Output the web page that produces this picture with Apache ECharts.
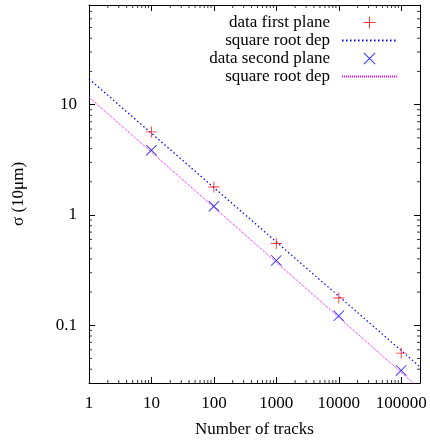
<!DOCTYPE html>
<html>
<head>
<meta charset="utf-8">
<script src="https://cdn.jsdelivr.net/npm/echarts@6/dist/echarts.min.js"></script>
<style>html,body{margin:0;padding:0;background:#fff}#c{width:430px;height:441px}</style>
</head>
<body>
<div id="c"></div>
<script>
// ---- data ----
var tracks = [10, 100, 1000, 10000, 100000];
var sigmaFirst = [5.66, 1.79, 0.552, 0.177, 0.056];
var sigmaSecond = [3.86, 1.20, 0.387, 0.122, 0.039];
var fitX = [1, 200000];
var fitFirst = [17.1, 0.042];
var fitSecond = [11.7, 0.0265];
var xMin = 1, xMax = 200000, yMin = 0.03, yMax = 80;
var xMinorTicks = [2,3,4,5,6,7,8,9,20,30,40,50,60,70,80,90,200,300,400,500,600,700,800,900,
  2000,3000,4000,5000,6000,7000,8000,9000,20000,30000,40000,50000,60000,70000,80000,90000];
var yMinorTicks = [0.04,0.05,0.06,0.07,0.08,0.09,0.2,0.3,0.4,0.5,0.6,0.7,0.8,0.9,2,3,4,5,6,7,8,9,20,30,40,50,60,70];

var FONT = 'Liberation Serif';
var PLUS = 'path://M0,5.5H12V6.5H0Z M5.5,0H6.5V12H5.5Z';
var CROSS = 'path://M0,0.7L0.7,0L12,11.3L11.3,12Z M11.3,0L12,0.7L0.7,12L0,11.3Z';

function zip(a, b) { return a.map(function (v, i) { return [v, b[i]]; }); }
function isPow10(v) { var l = Math.log10(v); return Math.abs(l - Math.round(l)) < 1e-6; }

function minorSeries(data, size, offset) {
  return {
    type: 'scatter', data: data, symbol: 'rect', symbolSize: size, symbolOffset: offset,
    itemStyle: { color: '#000' }, silent: true, clip: false, animation: false,
    emphasis: { disabled: true }, tooltip: { show: false }, z: 5
  };
}

var axisCommon = {
  type: 'log', logBase: 10, splitLine: { show: false },
  axisLine: { show: true, lineStyle: { color: '#000', width: 1 } },
  axisTick: { show: true, inside: true, length: 6, lineStyle: { color: '#000' } }
};

var option = {
  animation: false,
  grid: { left: 89, top: 5, right: 10, bottom: 58, containLabel: false, outerBoundsMode: 'none' },
  legend: {
    orient: 'vertical', align: 'right', right: 27, top: 9,
    itemWidth: 55, itemHeight: 12, itemGap: 1,
    data: [
      { name: 'data first plane' },
      { name: 'sqfirst', itemStyle: { opacity: 0 } },
      { name: 'data second plane' },
      { name: 'sqsecond', itemStyle: { opacity: 0 } }
    ],
    formatter: function (n) { return (n === 'sqfirst' || n === 'sqsecond') ? 'square root dep' : n; },
    textStyle: { fontFamily: FONT, fontSize: 17, lineHeight: 17, color: '#000', padding: [0, 7, 0, 0] },
    selectedMode: false
  },
  xAxis: [
    Object.assign({}, axisCommon, {
      min: xMin, max: xMax, position: 'bottom',
      name: 'Number of tracks', nameLocation: 'middle', nameGap: 38,
      nameTextStyle: { fontFamily: FONT, fontSize: 17, color: '#000' },
      axisLabel: { fontFamily: FONT, fontSize: 17, color: '#000', margin: 12, showMaxLabel: false,
        formatter: function (v) { return isPow10(v) ? String(Math.round(v)) : ''; } }
    }),
    Object.assign({}, axisCommon, { min: xMin, max: xMax, position: 'top', axisLabel: { show: false } })
  ],
  yAxis: [
    Object.assign({}, axisCommon, {
      min: yMin, max: yMax, position: 'left',
      name: 'σ (10μm)', nameLocation: 'middle', nameGap: 62,
      nameTextStyle: { fontFamily: FONT, fontSize: 17, color: '#000' },
      axisLabel: { fontFamily: FONT, fontSize: 17, color: '#000', margin: 12, showMinLabel: false, showMaxLabel: false,
        formatter: function (v) { return isPow10(v) ? String(+v.toPrecision(3)) : ''; } }
    }),
    Object.assign({}, axisCommon, { min: yMin, max: yMax, position: 'right', axisLabel: { show: false } })
  ],
  series: [
    {
      name: 'data first plane', type: 'scatter', data: zip(tracks, sigmaFirst),
      symbol: PLUS, symbolSize: 11, symbolKeepAspect: true,
      itemStyle: { color: '#ff0000' }, z: 3
    },
    {
      name: 'sqfirst', type: 'line', data: zip(fitX, fitFirst), symbol: 'none',
      lineStyle: { color: '#0000ff', width: 1.2, type: [1.5, 2.5] }, itemStyle: { color: '#0000ff' }, z: 2
    },
    {
      name: 'data second plane', type: 'scatter', data: zip(tracks, sigmaSecond),
      symbol: CROSS, symbolSize: 11, symbolKeepAspect: true,
      itemStyle: { color: '#0000ff' }, z: 3
    },
    {
      name: 'sqsecond', type: 'line', data: zip(fitX, fitSecond), symbol: 'none',
      lineStyle: { color: '#ff00ff', width: 1, type: [1, 1] }, itemStyle: { color: '#ff00ff' }, z: 2
    },
    minorSeries(xMinorTicks.map(function (v) { return [v, yMin]; }), [1, 3], [0, -1.5]),
    minorSeries(xMinorTicks.map(function (v) { return [v, yMax]; }), [1, 3], [0, 1.5]),
    minorSeries(yMinorTicks.map(function (v) { return [xMin, v]; }), [3, 1], [1.5, 0]),
    minorSeries(yMinorTicks.map(function (v) { return [xMax, v]; }), [3, 1], [-1.5, 0])
  ]
};

var chart = echarts.init(document.getElementById('c'), null, { renderer: 'canvas' });
chart.setOption(option);
</script>
</body>
</html>
